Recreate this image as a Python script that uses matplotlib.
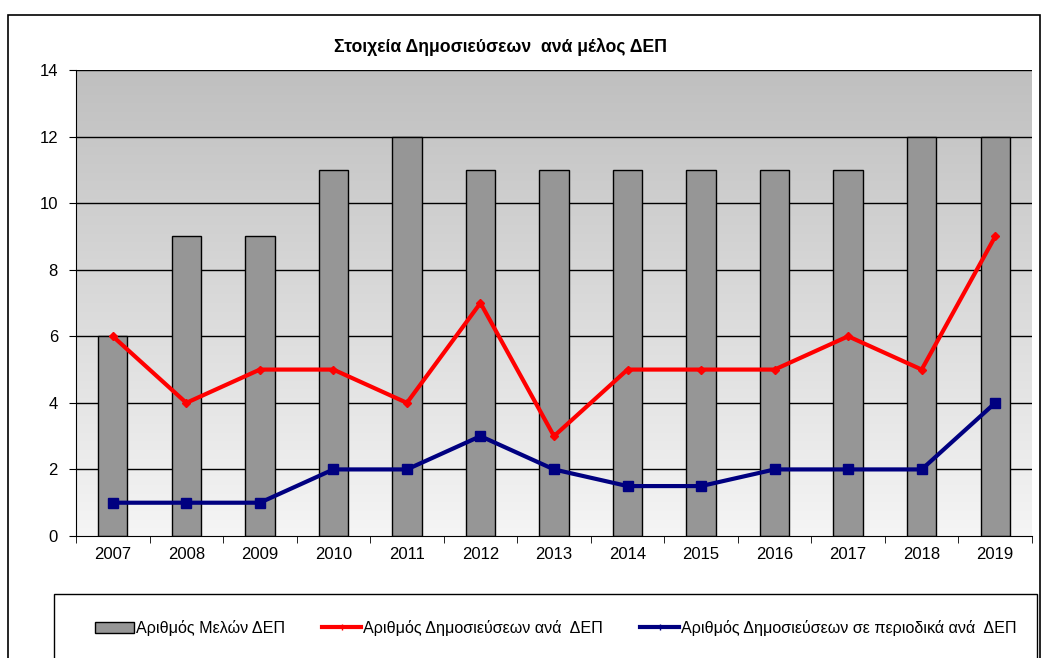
import matplotlib.pyplot as plt
import numpy as np
from matplotlib.patches import Rectangle
from matplotlib.lines import Line2D

plt.rcParams["font.family"] = ["Liberation Sans", "DejaVu Sans"]

years = ["2007", "2008", "2009", "2010", "2011", "2012", "2013",
         "2014", "2015", "2016", "2017", "2018", "2019"]
members = [6, 9, 9, 11, 12, 11, 11, 11, 11, 11, 11, 12, 12]
pubs_per_member = [6, 4, 5, 5, 4, 7, 3, 5, 5, 5, 6, 5, 9]
journal_per_member = [1, 1, 1, 2, 2, 3, 2, 1.5, 1.5, 2, 2, 2, 4]

title = "Στοιχεία Δημοσιεύσεων  ανά μέλος ΔΕΠ"
label_members = "Αριθμός Μελών ΔΕΠ"
label_pubs = "Αριθμός Δημοσιεύσεων ανά  ΔΕΠ"
label_journal = "Αριθμός Δημοσιεύσεων σε περιοδικά ανά  ΔΕΠ"

W, H = 1053, 658
fig = plt.figure(figsize=(W / 100, H / 100), dpi=100)


def px(x0, y0, x1, y1):
    # pixel box -> figure fraction (left, bottom, width, height)
    return (x0 / W, 1 - y1 / H, (x1 - x0) / W, (y1 - y0) / H)


fx, fy, fw, fh = px(8, 15, 1040, 700)
fig.patches.append(Rectangle((fx, fy), fw, fh, transform=fig.transFigure,
                             fill=False, edgecolor="black", linewidth=1.2))
lx, ly, lw, lh = px(54, 594, 1037, 700)
fig.patches.append(Rectangle((lx, ly), lw, lh, transform=fig.transFigure,
                             fill=False, edgecolor="black", linewidth=1.0))

ax = fig.add_axes(px(76, 70, 1032, 536))
x = np.arange(len(years))
ax.set_xlim(-0.5, len(years) - 0.5)
ax.set_ylim(0, 14)

# gradient plot-area background
grad = np.linspace(0, 1, 256).reshape(-1, 1)
top = np.array([0.75, 0.75, 0.75])
bot = np.array([0.96, 0.96, 0.96])
img = (top + (bot - top) * grad).reshape(256, 1, 3)
ax.imshow(img, extent=(-0.5, len(years) - 0.5, 0, 14), aspect="auto",
          origin="upper", zorder=0)

for yv in range(2, 15, 2):
    ax.axhline(yv, color="black", linewidth=1.0, zorder=1)

ax.bar(x, members, width=0.4, color="#969696", edgecolor="black",
       linewidth=1.0, zorder=2)
ax.plot(x, pubs_per_member, color="#ff0000", linewidth=3, marker="D",
        markersize=4, zorder=3)
ax.plot(x, journal_per_member, color="#000080", linewidth=3, marker="s",
        markersize=7, zorder=4)

ax.set_yticks(range(0, 15, 2))
ax.set_xticks(x)
ax.set_xticklabels(years)
ax.set_xticks(np.arange(-0.5, len(years), 1), minor=True)
ax.tick_params(axis="x", which="major", length=0, labelsize=12, pad=8)
ax.tick_params(axis="x", which="minor", length=5, direction="out")
ax.tick_params(axis="y", length=5, direction="out", labelsize=12, pad=8)
for s in ["top", "right"]:
    ax.spines[s].set_visible(False)
ax.spines["left"].set_color("black")
ax.spines["bottom"].set_color("black")

fig.text(500 / W, 1 - 47 / H, title, ha="center", va="center",
         fontsize=12.7, fontweight="bold")

handles = [
    Rectangle((0, 0), 1, 1, facecolor="#969696", edgecolor="black"),
    Line2D([], [], color="#ff0000", linewidth=3, marker="|", markersize=5),
    Line2D([], [], color="#000080", linewidth=3, marker="|", markersize=5),
]
fig.legend(handles, [label_members, label_pubs, label_journal], ncol=3,
           loc="center", bbox_to_anchor=(556 / W, 1 - 628 / H), frameon=False,
           fontsize=11.6, handlelength=2.4, columnspacing=2.3, handletextpad=0.15,
           borderpad=0, borderaxespad=0)

fig.savefig("out.png", dpi=100)
